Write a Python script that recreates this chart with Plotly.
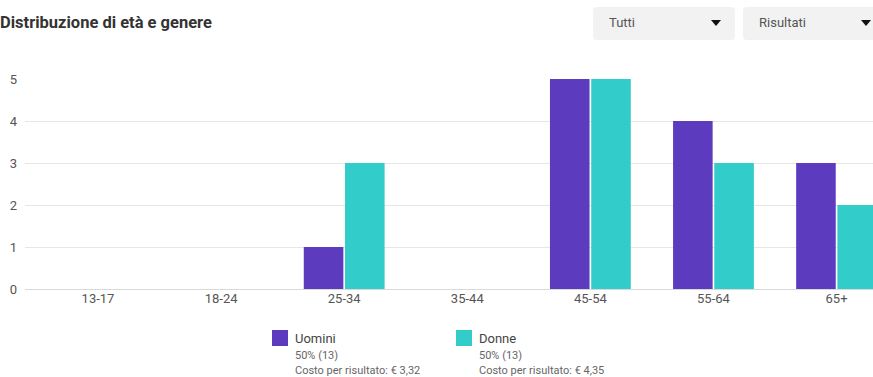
import plotly.graph_objects as go

# dati
fasce_eta = ["13-17", "18-24", "25-34", "35-44", "45-54", "55-64", "65+"]
uomini = [0, 0, 1, 0, 5, 4, 3]
donne = [0, 0, 3, 0, 5, 3, 2]

serie_nomi = ["Uomini", "Donne"]
serie_quota = ["50% (13)", "50% (13)"]
serie_costo = ["Costo per risultato: € 3,32", "Costo per risultato: € 4,35"]
serie_colori = ["#5d3bbf", "#32cdcb"]

filtri = ["Tutti", "Risultati"]

W, H = 873, 377
ML, MR, MT, MB = 25, 0, 79, 88
PW, PH = W - ML - MR, H - MT - MB


def px_x(x):
    return (x - ML) / PW


def px_y(y):
    return (H - MB - y) / PH


def rounded_rect(x0, y0, x1, y1, r):
    # percorso in coordinate paper, angoli arrotondati
    pts = [
        f"M {px_x(x0 + r)} {px_y(y0)}",
        f"L {px_x(x1 - r)} {px_y(y0)}",
        f"Q {px_x(x1)} {px_y(y0)} {px_x(x1)} {px_y(y0 + r)}",
        f"L {px_x(x1)} {px_y(y1 - r)}",
        f"Q {px_x(x1)} {px_y(y1)} {px_x(x1 - r)} {px_y(y1)}",
        f"L {px_x(x0 + r)} {px_y(y1)}",
        f"Q {px_x(x0)} {px_y(y1)} {px_x(x0)} {px_y(y1 - r)}",
        f"L {px_x(x0)} {px_y(y0 + r)}",
        f"Q {px_x(x0)} {px_y(y0)} {px_x(x0 + r)} {px_y(y0)}",
        "Z",
    ]
    return " ".join(pts)


fig = go.Figure()
for nome, valori, colore in zip(serie_nomi, [uomini, donne], serie_colori):
    fig.add_trace(go.Bar(
        x=fasce_eta, y=valori, name=nome,
        marker=dict(color=colore, line=dict(width=0)),
        hoverinfo="skip",
    ))

# titolo
fig.add_annotation(
    xref="paper", yref="paper", x=px_x(-2), y=px_y(22),
    xanchor="left", yanchor="middle", showarrow=False,
    text="<b>Distribuzione di età e genere</b>",
    font=dict(size=16.5, color="#333333", family="Roboto"),
)

# menu a tendina (decorativi)
box = [(593, 735), (743, 890)]
for (x0, x1), testo in zip(box, filtri):
    fig.add_shape(
        type="path", xref="paper", yref="paper",
        path=rounded_rect(x0, 7, x1, 40, 4),
        fillcolor="#f2f2f2", line=dict(width=0), layer="below",
    )
    fig.add_annotation(
        xref="paper", yref="paper", x=px_x(x0 + 14), y=px_y(22),
        xanchor="left", yanchor="middle", showarrow=False,
        text=testo, font=dict(size=13, color="#555555", family="Roboto"),
    )
    cx = min(x1 - 19, 866)
    fig.add_shape(
        type="path", xref="paper", yref="paper",
        path=(f"M {px_x(cx - 5)} {px_y(20)} L {px_x(cx + 5)} {px_y(20)} "
              f"L {px_x(cx)} {px_y(26)} Z"),
        fillcolor="#111111", line=dict(width=0),
    )

# legenda personalizzata
leg_x = [272, 456]
for lx, nome, quota, costo, colore in zip(leg_x, serie_nomi, serie_quota, serie_costo, serie_colori):
    fig.add_shape(
        type="rect", xref="paper", yref="paper",
        x0=px_x(lx), x1=px_x(lx + 16), y0=px_y(346), y1=px_y(330),
        fillcolor=colore, line=dict(width=0),
    )
    fig.add_annotation(
        xref="paper", yref="paper", x=px_x(lx + 21), y=px_y(338),
        xanchor="left", yanchor="middle", showarrow=False,
        text=nome, font=dict(size=13, color="#444444", family="Roboto"),
    )
    fig.add_annotation(
        xref="paper", yref="paper", x=px_x(lx + 21), y=px_y(355),
        xanchor="left", yanchor="middle", showarrow=False,
        text=quota, font=dict(size=11, color="#666666", family="Roboto"),
    )
    fig.add_annotation(
        xref="paper", yref="paper", x=px_x(lx + 21), y=px_y(370),
        xanchor="left", yanchor="middle", showarrow=False,
        text=costo, font=dict(size=11, color="#666666", family="Roboto"),
    )

fig.update_layout(
    width=W, height=H,
    margin=dict(l=ML, r=MR, t=MT, b=MB),
    barmode="group", bargap=0.33, bargroupgap=0.04,
    showlegend=False,
    paper_bgcolor="white", plot_bgcolor="white",
    font=dict(family="Roboto", size=13, color="#555555"),
    xaxis=dict(
        range=[-0.593, 6.296], showgrid=False, zeroline=False,
        showline=False, ticks="", tickfont=dict(size=13, color="#555555"),
        fixedrange=True,
    ),
    yaxis=dict(
        range=[0, 5], dtick=1, showgrid=True, gridcolor="#e6e6e6", gridwidth=1,
        zeroline=True, zerolinecolor="#d9d9d9", zerolinewidth=1,
        ticks="", ticklabelstandoff=7, tickfont=dict(size=13, color="#555555"),
        fixedrange=True,
    ),
)

fig.write_html(
    "out.html",
    config={"displayModeBar": False},
    post_script="document.body.style.margin='0';document.body.style.overflow='hidden';",
)
